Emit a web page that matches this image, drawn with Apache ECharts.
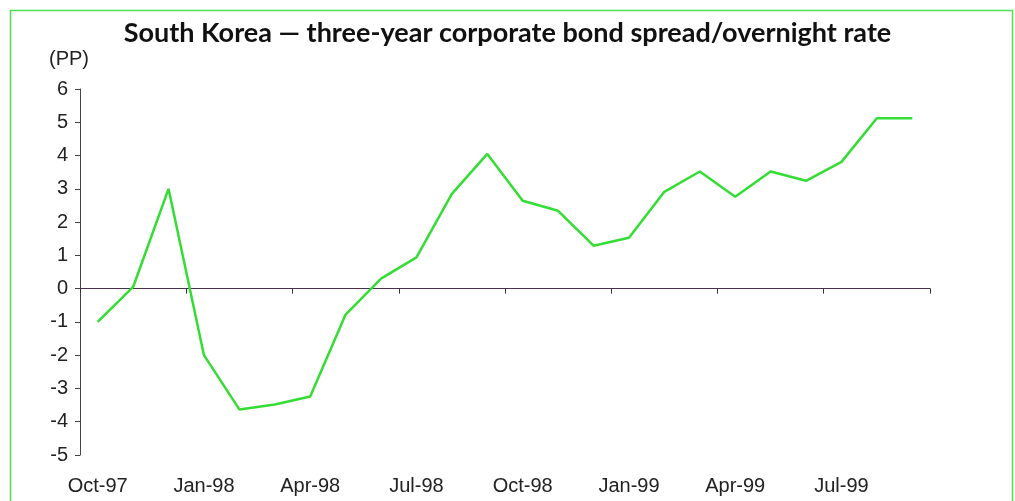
<!DOCTYPE html>
<html>
<head>
<meta charset="utf-8">
<script src="https://cdn.jsdelivr.net/npm/echarts@6/dist/echarts.min.js"></script>
<style>
  html, body { margin: 0; padding: 0; background: #fff; }
  #main { width: 1015px; height: 501px; }
</style>
</head>
<body>
<div id="main"></div>
<script>
var months = ['Oct-97', 'Nov-97', 'Dec-97', 'Jan-98', 'Feb-98', 'Mar-98', 'Apr-98', 'May-98',
    'Jun-98', 'Jul-98', 'Aug-98', 'Sep-98', 'Oct-98', 'Nov-98', 'Dec-98', 'Jan-99',
    'Feb-99', 'Mar-99', 'Apr-99', 'May-99', 'Jun-99', 'Jul-99', 'Aug-99', 'Sep-99'];
var spread = [-1, 0.05, 3.0, -2.0, -3.63, -3.48, -3.24, -0.78,
    0.3, 0.94, 2.85, 4.05, 2.64, 2.34, 1.29, 1.53,
    2.91, 3.52, 2.76, 3.52, 3.24, 3.81, 5.12, 5.12];

var myChart = echarts.init(document.getElementById('main'));

var option = {
    backgroundColor: '#fff',
    animation: false,
    title: {
        text: 'South Korea \u2014 three-year corporate bond spread/overnight rate',
        left: 'center',
        top: 15,
        textStyle: { fontFamily: 'Lato', fontWeight: 'bold', fontSize: 27, color: '#111' }
    },
    graphic: [{
        type: 'rect',
        shape: { x: 10.5, y: 10.5, width: 1002, height: 500 },
        style: { fill: 'none', stroke: '#4ee04e', lineWidth: 1.5 },
        silent: true
    }],
    grid: { left: 80, right: 85, top: 89, bottom: 46 },
    xAxis: [
        {
            // labels along the bottom
            type: 'category',
            data: months,
            position: 'bottom',
            axisLine: { show: false, onZero: false },
            axisTick: { show: false },
            axisLabel: {
                interval: 2,
                margin: 21,
                fontFamily: 'Liberation Sans',
                fontSize: 20,
                color: '#222'
            }
        },
        {
            // the zero line with its ticks
            type: 'category',
            data: months,
            position: 'bottom',
            axisLine: { show: true, onZero: true, lineStyle: { color: '#4a3050', width: 1 } },
            axisTick: { show: true, interval: 2, length: 5, lineStyle: { color: '#333' } },
            axisLabel: { show: false, interval: 2 }
        }
    ],
    yAxis: {
        type: 'value',
        min: -5,
        max: 6,
        interval: 1,
        name: '(PP)',
        nameLocation: 'end',
        nameGap: 20,
        nameTextStyle: {
            fontFamily: 'Liberation Sans', fontSize: 20, color: '#222',
            padding: [0, 22, 0, 0]
        },
        axisLine: { show: true, lineStyle: { color: '#444' } },
        axisTick: { show: true, length: 5, lineStyle: { color: '#444' } },
        splitLine: { show: false },
        axisLabel: {
            margin: 12,
            fontFamily: 'Liberation Sans',
            fontSize: 20,
            color: '#222'
        }
    },
    series: [
        {
            name: 'Spread',
            type: 'line',
            xAxisIndex: 0,
            data: spread,
            symbol: 'none',
            lineStyle: { color: '#33dd33', width: 2.5 }
        }
    ]
};

myChart.setOption(option);
</script>
</body>
</html>
